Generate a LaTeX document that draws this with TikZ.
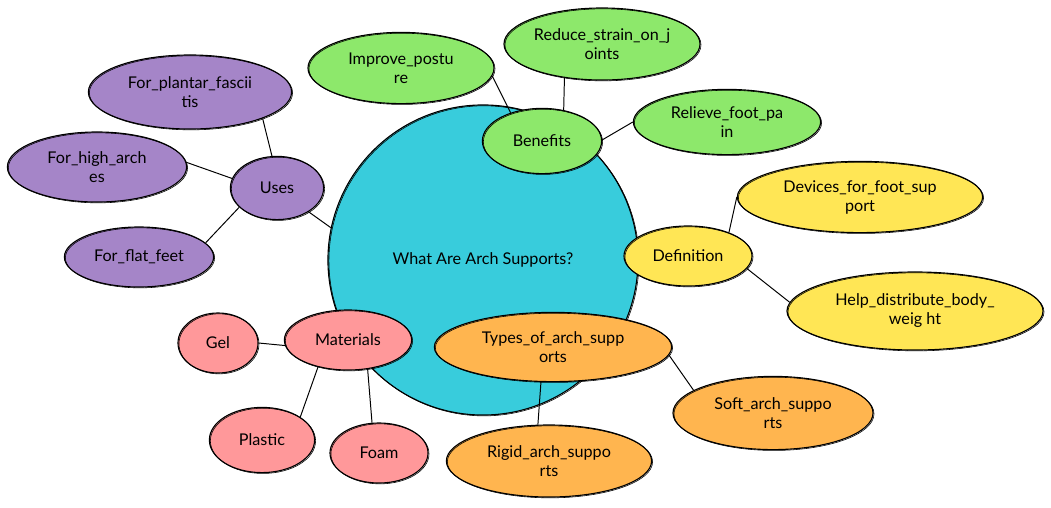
\documentclass[tikz,border=0pt]{standalone}
\usepackage{fontspec}
\setmainfont{Lato}
\usetikzlibrary{shapes.geometric, backgrounds}
\definecolor{rootcyan}{HTML}{38CCDC}
\definecolor{usepurple}{HTML}{A585C8}
\definecolor{benefitgreen}{HTML}{8DE86B}
\definecolor{defyellow}{HTML}{FFE655}
\definecolor{typeorange}{HTML}{FFB54F}
\definecolor{matpink}{HTML}{FF989A}
\tikzstyle{bubble} = [ellipse, draw=black, line width=0.8pt, inner sep=0pt, align=center,
  font=\fontsize{11.5}{13.5}\selectfont,
  postaction={draw=black, line width=0.4pt, transform canvas={shift={(0.7pt,-0.6pt)}}}]
\tikzstyle{link} = [line width=0.7pt, black]

\begin{document}
\begin{tikzpicture}[x=0.025cm, y=-0.025cm]
  \useasboundingbox (0,0) rectangle (1051,507);

  \node (root) [bubble, circle, fill=rootcyan, minimum size=7.75cm] at (483,260) {What Are Arch Supports?};

  % Uses
  \node (uses) [bubble, fill=usepurple, minimum width=2.33cm, minimum height=1.58cm] at (277,188) {Uses};
  \node (plantar) [bubble, fill=usepurple, minimum width=5.08cm, minimum height=1.85cm] at (190,92) {For\_plantar\_fascii\\tis};
  \node (high) [bubble, fill=usepurple, minimum width=4.48cm, minimum height=1.75cm] at (97,167) {For\_high\_arch\\es};
  \node (flat) [bubble, fill=usepurple, minimum width=3.73cm, minimum height=1.5cm] at (139,257) {For\_flat\_feet};

  % Benefits
  \node (benefits) [bubble, fill=benefitgreen, minimum width=2.98cm, minimum height=1.63cm] at (542,141) {Benefits};
  \node (posture) [bubble, fill=benefitgreen, minimum width=4.65cm, minimum height=1.78cm] at (401,68) {Improve\_postu\\re};
  \node (joints) [bubble, fill=benefitgreen, minimum width=4.9cm, minimum height=1.8cm] at (602,44) {Reduce\_strain\_on\_j\\oints};
  \node (pain) [bubble, fill=benefitgreen, minimum width=4.68cm, minimum height=1.63cm] at (727,122) {Relieve\_foot\_pa\\in};

  % Definition
  \node (definition) [bubble, fill=defyellow, minimum width=3.2cm, minimum height=1.5cm] at (688,256) {Definition};
  \node (devices) [bubble, fill=defyellow, minimum width=6.13cm, minimum height=1.78cm] at (860,197) {Devices\_for\_foot\_sup\\port};
  \node (weight) [bubble, fill=defyellow, minimum width=6.4cm, minimum height=1.95cm] at (915,311) {Help\_distribute\_body\_\\weig ht};

  % Types
  \node (types) [bubble, fill=typeorange, minimum width=5.93cm, minimum height=1.73cm] at (553,347) {Types\_of\_arch\_supp\\orts};
  \node (soft) [bubble, fill=typeorange, minimum width=5.0cm, minimum height=1.83cm] at (773,413) {Soft\_arch\_suppo\\rts};
  \node (rigid) [bubble, fill=typeorange, minimum width=5.13cm, minimum height=1.8cm] at (549,461) {Rigid\_arch\_suppo\\rts};

  % Materials
  \node (materials) [bubble, fill=matpink, minimum width=3.18cm, minimum height=1.5cm] at (348,340) {Materials};
  \node (gel) [bubble, fill=matpink, minimum width=2.0cm, minimum height=1.5cm] at (218,343) {Gel};
  \node (plastic) [bubble, fill=matpink, minimum width=2.63cm, minimum height=1.63cm] at (262,440) {Plastic};
  \node (foam) [bubble, fill=matpink, minimum width=2.45cm, minimum height=1.5cm] at (379,453) {Foam};

  % branches hidden under the overlapping bubbles
  \begin{scope}[on background layer]
    \foreach \branch in {benefits, definition, types, materials}
      \draw[link] (root.center) -- (\branch.center);
  \end{scope}
  \draw[link] (uses.-37) -- (root.168);

  % leaves
  \draw[link] (uses.99) -- (plantar.-20);
  \draw[link] (uses.168) -- (high.3);
  \draw[link] (uses.-153) -- (flat.12);
  \draw[link] (benefits.138) -- (posture.-5);
  \draw[link] (benefits.55) -- (joints.-138);
  \draw[link] (benefits.1) -- (pain.180);
  \draw[link] (definition.30) -- (devices.180);
  \draw[link] (definition.-12) -- (weight.176);
  \draw[link] (types.-4) -- (soft.164);
  \draw[link] (types.-109) -- (rigid.107);
  \draw[link] (materials.185) -- (gel.0);
  \draw[link] (materials.-138) -- (plastic.31);
  \draw[link] (materials.-56) -- (foam.103);
\end{tikzpicture}
\end{document}
